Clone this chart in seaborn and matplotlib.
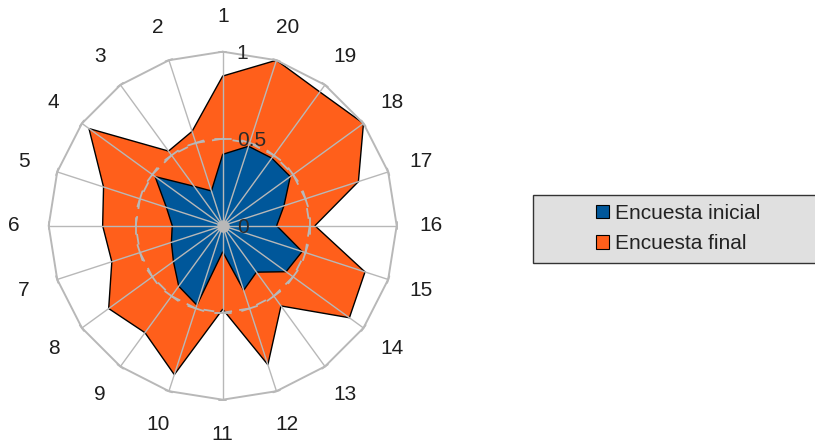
import numpy as np
import matplotlib
matplotlib.use("Agg")
import matplotlib.pyplot as plt
import seaborn as sns
from matplotlib.patches import Patch, Rectangle

# Survey items (one spoke each) and the two survey rounds
items = [str(i) for i in range(1, 21)]
inicial = [0.41, 0.21, 0.28, 0.48, 0.34, 0.29, 0.31, 0.35, 0.43, 0.48,
           0.15, 0.39, 0.33, 0.45, 0.48, 0.31, 0.37, 0.48, 0.48, 0.48]
final = [0.86, 0.57, 0.53, 0.95, 0.72, 0.69, 0.67, 0.81, 0.76, 0.90,
         0.48, 0.84, 0.57, 0.90, 0.86, 0.53, 0.82, 1.00, 0.95, 1.00]
radial_ticks = [0, 0.5, 1]
radial_labels = ["0", "0.5", "1"]
series_names = ["Encuesta inicial", "Encuesta final"]

BLUE = "#00579a"
ORANGE = "#ff5f1b"
GRID = "#b8b8b8"
TEXT = "#1e1e1e"
FS = 15

sns.set_theme(style="white")
plt.rcParams["font.family"] = ["Liberation Sans", "DejaVu Sans"]

W, H = 815, 444
fig = plt.figure(figsize=(W / 100, H / 100), dpi=100)
cx, cy, R = 222.7, 225.7, 174.0
ax = fig.add_axes([(cx - R) / W, (H - cy - R) / H, 2 * R / W, 2 * R / H],
                  projection="polar")
ax.set_theta_offset(np.pi / 2)
ax.set_ylim(0, 1)
ax.grid(False)
ax.spines["polar"].set_visible(False)
ax.set_xticks([])
ax.set_yticks([])
ax.patch.set_alpha(0)

n = len(items)
theta = np.arange(n) * 2 * np.pi / n
th_c = np.append(theta, theta[0])

# Filled series: final round underneath, initial round on top
ax.fill(th_c, np.append(final, final[0]), facecolor=ORANGE,
        edgecolor="black", linewidth=1.0, zorder=2)
ax.fill(th_c, np.append(inicial, inicial[0]), facecolor=BLUE,
        edgecolor="black", linewidth=1.0, zorder=3)

# Spokes and polygonal grid rings
for th in theta:
    ax.plot([th, th], [0, 1], color=GRID, lw=1.0, zorder=5)
ax.plot(th_c, np.ones(n + 1), color=GRID, lw=1.4, zorder=5, clip_on=False)
ax.plot(th_c, np.full(n + 1, 0.5), color=GRID, lw=1.3,
        ls=(0, (6, 4)), zorder=5)


def cross_tick(th, r, half_px, **kw):
    d = np.arctan((half_px / R) / r)
    rr = r / np.cos(d)
    ax.plot([th - d, th + d], [rr, rr], **kw)


for th in theta:
    cross_tick(th, 0.5, 8, color=GRID, lw=1.3, zorder=5)
    cross_tick(th, 1.0, 3.5, color=GRID, lw=1.4, zorder=5, clip_on=False)

ax.plot(0, 0, "o", ms=8, color=GRID, zorder=6, clip_on=False)

# Spoke labels
for th, lab in zip(theta, items):
    ax.text(th, 1.2, lab, ha="center", va="center", fontsize=FS,
            color=TEXT, clip_on=False)

# Radial scale labels along the first spoke
for r, lab in zip(radial_ticks, radial_labels):
    ax.annotate(lab, xy=(0, r), xytext=(14, 0), textcoords="offset pixels",
                ha="left", va="center_baseline", fontsize=FS, color="#2a2a2a",
                zorder=7, annotation_clip=False)

# Legend panel
fig.add_artist(Rectangle((533 / W, 181 / H), (W - 533 + 6) / W, 68 / H,
                         transform=fig.transFigure, facecolor="#e0e0e0",
                         edgecolor="#333333", lw=1.0, zorder=1))
handles = [Patch(facecolor=BLUE, edgecolor="black", lw=0.8, label=series_names[0]),
           Patch(facecolor=ORANGE, edgecolor="black", lw=0.8, label=series_names[1])]
leg = fig.legend(handles=handles, loc="upper left",
                 bbox_to_anchor=(596 / W, (H - 204) / H), frameon=False,
                 fontsize=FS, handlelength=0.62, handleheight=0.62,
                 handletextpad=0.3, labelspacing=0.55, borderpad=0,
                 borderaxespad=0)
for t in leg.get_texts():
    t.set_color("#222222")
leg.set_zorder(3)

fig.savefig("out.png", dpi=100)
